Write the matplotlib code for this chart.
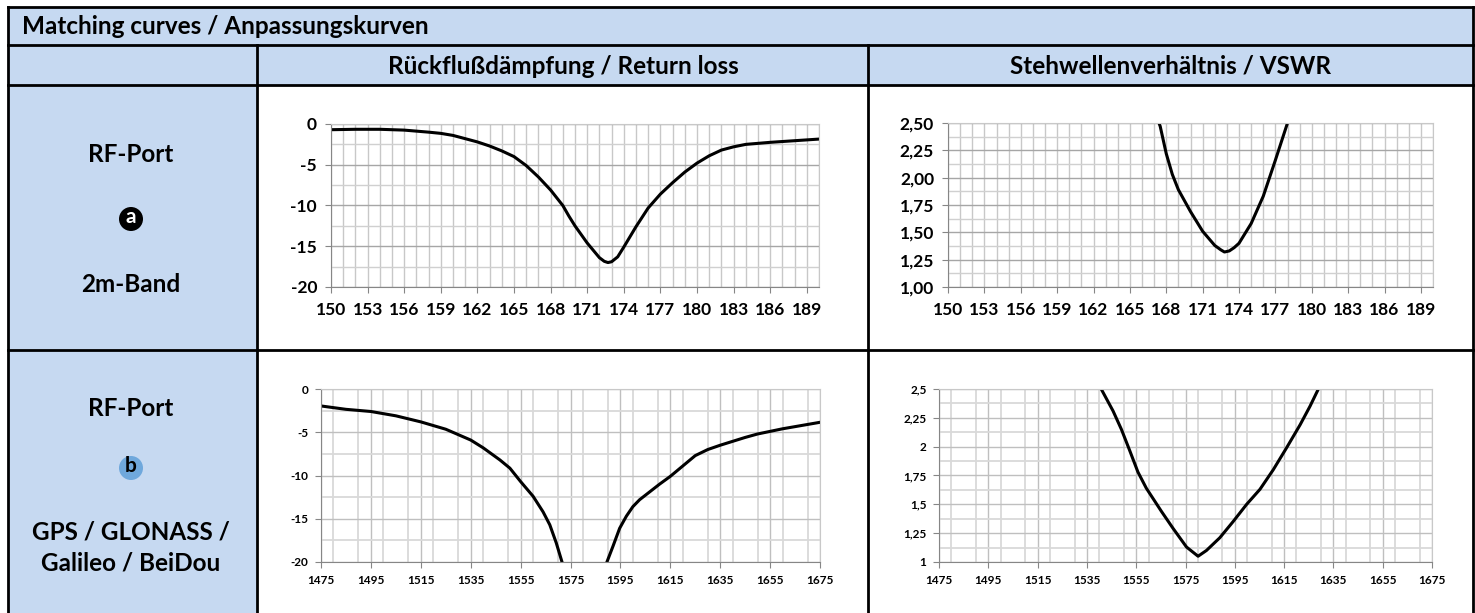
import matplotlib.pyplot as plt
import matplotlib.ticker as mticker
from matplotlib.patches import Rectangle, Circle

plt.rcParams['font.family'] = ['Lato', 'DejaVu Sans']
plt.rcParams['font.weight'] = 'bold'
plt.rcParams['axes.unicode_minus'] = False

W, H = 1475, 613

# --- data ---
# 2m band, return loss (dB)
rl_a_freq = [150, 152, 154, 156, 158, 159, 160, 162, 163, 164, 165, 166, 167, 168, 169,
             169.5, 170, 171, 172, 172.4, 172.7, 173.0, 173.5, 174, 175, 176, 177, 178,
             179, 180, 181, 182, 183, 184, 186, 188, 190]
rl_a_db = [-0.7, -0.65, -0.65, -0.75, -1.0, -1.15, -1.4, -2.2, -2.7, -3.3, -4.0, -5.1, -6.5,
           -8.1, -10.0, -11.3, -12.5, -14.6, -16.4, -16.85, -17.0, -16.9, -16.3, -15.1,
           -12.6, -10.3, -8.6, -7.2, -5.9, -4.8, -3.9, -3.2, -2.8, -2.5, -2.25, -2.05, -1.85]

# 2m band, VSWR
vswr_a_freq = [167.0, 167.5, 168.0, 168.5, 169, 170, 171, 172, 172.5, 172.8, 173.2, 173.6,
               174, 175, 176, 177, 178, 178.3]
vswr_a = [2.62, 2.47, 2.22, 2.03, 1.89, 1.69, 1.51, 1.38, 1.34, 1.32, 1.33, 1.36,
          1.40, 1.58, 1.83, 2.16, 2.50, 2.62]

# GNSS, return loss (dB)
rl_b_freq = [1475, 1485, 1495, 1505, 1515, 1525, 1535, 1540, 1546.7, 1550.7, 1555, 1560,
             1564, 1566.7, 1569.3, 1571.6, 1574, 1578, 1581, 1584, 1587, 1589.6, 1592,
             1594.7, 1597.4, 1600, 1602.7, 1606.7, 1610.7, 1615, 1620, 1625, 1630, 1635,
             1640, 1645, 1650, 1655, 1660, 1665, 1670, 1675]
rl_b_db = [-1.96, -2.35, -2.6, -3.1, -3.8, -4.65, -5.9, -6.8, -8.2, -9.15, -10.7, -12.4,
           -14.2, -15.7, -17.8, -20.0, -23.5, -29.0, -32.0, -28.0, -23.5, -20.0, -18.2,
           -16.1, -14.7, -13.6, -12.8, -11.9, -11.0, -10.1, -8.9, -7.7, -7.0, -6.5,
           -6.05, -5.6, -5.2, -4.9, -4.6, -4.35, -4.1, -3.85]

# GNSS, VSWR
vswr_b_freq = [1539.5, 1540.8, 1545.6, 1549, 1552.3, 1555.7, 1559.1, 1565.2, 1570, 1575.4,
               1580.1, 1583.5, 1588.9, 1594.3, 1599.8, 1605.2, 1610.6, 1616, 1621.5,
               1625.5, 1628.9, 1630]
vswr_b = [2.56, 2.5, 2.31, 2.15, 1.97, 1.78, 1.64, 1.44, 1.29, 1.13, 1.05, 1.10, 1.21,
          1.35, 1.50, 1.63, 1.80, 1.99, 2.19, 2.35, 2.5, 2.55]

# tick labels
rl_ticks = [0, -5, -10, -15, -20]
vswr_ticks = [1.0, 1.25, 1.5, 1.75, 2.0, 2.25, 2.5]
vswr_a_labels = ['1,00', '1,25', '1,50', '1,75', '2,00', '2,25', '2,50']
vswr_b_labels = ['1', '1,25', '1,5', '1,75', '2', '2,25', '2,5']
freq_a_ticks = list(range(150, 190, 3))
freq_b_ticks = list(range(1475, 1676, 20))

blue = '#C6D9F1'
fig = plt.figure(figsize=(W / 100, H / 100), dpi=100)

# background table drawn in pixel coordinates
bg = fig.add_axes([0, 0, 1, 1])
bg.set_xlim(0, W)
bg.set_ylim(H, 0)
bg.set_aspect('equal')
bg.axis('off')

bg.add_patch(Rectangle((8, 7), 1465, 78, facecolor=blue, edgecolor='none'))
bg.add_patch(Rectangle((8, 85), 249, 540, facecolor=blue, edgecolor='none'))
lk = dict(color='black', lw=2, solid_capstyle='projecting')
for y in [7, 45, 85, 350]:
    bg.plot([8, 1473], [y, y], **lk)
bg.plot([8, 8], [7, 613], **lk)
bg.plot([1473, 1473], [7, 613], **lk)
bg.plot([257, 257], [45, 613], **lk)
bg.plot([868, 868], [45, 613], **lk)

fs = 17.5
bg.text(22, 27, 'Matching curves / Anpassungskurven', fontsize=fs, ha='left', va='center')
bg.text(563, 66, 'Rückflußdämpfung / Return loss', fontsize=fs, ha='center', va='center')
bg.text(1171, 66, 'Stehwellenverhältnis / VSWR', fontsize=fs, ha='center', va='center')

bg.text(131, 155, 'RF-Port', fontsize=fs, ha='center', va='center')
bg.add_patch(Circle((131, 219), 12, facecolor='black', edgecolor='none'))
bg.text(131, 217, 'a', fontsize=15, color='white', ha='center', va='center')
bg.text(131, 284, '2m-Band', fontsize=fs, ha='center', va='center')

bg.text(131, 408, 'RF-Port', fontsize=fs, ha='center', va='center')
bg.add_patch(Circle((131, 468), 12, facecolor='#6FA8DC', edgecolor='none'))
bg.text(131, 466, 'b', fontsize=15, color='black', ha='center', va='center')
bg.text(131, 532, 'GPS / GLONASS /', fontsize=fs, ha='center', va='center')
bg.text(131, 563, 'Galileo / BeiDou', fontsize=fs, ha='center', va='center')


def chart(left, right, top, bottom):
    return fig.add_axes([left / W, 1 - bottom / H, (right - left) / W, (bottom - top) / H])


def style(ax, tick_fs, xpad, ypad):
    for s in ['left', 'bottom']:
        ax.spines[s].set_color('#868686')
    for s in ['top', 'right']:
        ax.spines[s].set_color('#C8C8C8')
    ax.tick_params(axis='both', which='major', direction='out', color='#868686',
                   length=4, labelsize=tick_fs)
    ax.tick_params(axis='x', which='major', pad=xpad)
    ax.tick_params(axis='y', which='major', pad=ypad)
    ax.tick_params(which='minor', length=0)
    ax.set_axisbelow(True)


# 2m-band return loss
ax1 = chart(331, 819, 124, 287)
ax1.plot(rl_a_freq, rl_a_db, color='black', lw=2.2)
ax1.set_xlim(150, 190)
ax1.set_ylim(-20, 0)
ax1.set_xticks(freq_a_ticks)
ax1.set_yticks(rl_ticks)
ax1.xaxis.set_minor_locator(mticker.MultipleLocator(1))
ax1.yaxis.set_minor_locator(mticker.MultipleLocator(2.5))
ax1.grid(axis='x', which='both', color='#C8C8C8', lw=1)
ax1.grid(axis='y', which='major', color='#A6A6A6', lw=1)
ax1.grid(axis='y', which='minor', color='#D0D0D0', lw=1)
style(ax1, 12.5, 7, 6)

# 2m-band VSWR
ax2 = chart(948, 1433, 123, 287)
ax2.plot(vswr_a_freq, vswr_a, color='black', lw=2.2)
ax2.set_xlim(150, 190)
ax2.set_ylim(1.0, 2.5)
ax2.set_xticks(freq_a_ticks)
ax2.set_yticks(vswr_ticks)
ax2.set_yticklabels(vswr_a_labels)
ax2.xaxis.set_minor_locator(mticker.MultipleLocator(1))
ax2.yaxis.set_minor_locator(mticker.MultipleLocator(0.125))
ax2.grid(axis='x', which='both', color='#C8C8C8', lw=1)
ax2.grid(axis='y', which='major', color='#A6A6A6', lw=1)
ax2.grid(axis='y', which='minor', color='#D0D0D0', lw=1)
style(ax2, 12.5, 7, 6)

# GNSS return loss
ax3 = chart(321, 820, 389, 562)
ax3.plot(rl_b_freq, rl_b_db, color='black', lw=2.2)
ax3.set_xlim(1475, 1675)
ax3.set_ylim(-20, 0)
ax3.set_xticks(freq_b_ticks)
ax3.set_yticks(rl_ticks)
ax3.xaxis.set_minor_locator(mticker.MultipleLocator(10))
ax3.yaxis.set_minor_locator(mticker.MultipleLocator(2.5))
ax3.grid(axis='x', which='major', color='#BFBFBF', lw=1)
ax3.grid(axis='x', which='minor', color='#D9D9D9', lw=1.3)
ax3.grid(axis='y', which='major', color='#BFBFBF', lw=1)
ax3.grid(axis='y', which='minor', color='#D9D9D9', lw=1.3)
style(ax3, 8.5, 5, 5)

# GNSS VSWR
ax4 = chart(939, 1432, 389, 562)
ax4.plot(vswr_b_freq, vswr_b, color='black', lw=2.2)
ax4.set_xlim(1475, 1675)
ax4.set_ylim(1.0, 2.5)
ax4.set_xticks(freq_b_ticks)
ax4.set_yticks(vswr_ticks)
ax4.set_yticklabels(vswr_b_labels)
ax4.xaxis.set_minor_locator(mticker.MultipleLocator(10))
ax4.yaxis.set_minor_locator(mticker.MultipleLocator(0.125))
ax4.grid(axis='x', which='major', color='#BFBFBF', lw=1)
ax4.grid(axis='x', which='minor', color='#D9D9D9', lw=1.3)
ax4.grid(axis='y', which='major', color='#BFBFBF', lw=1)
ax4.grid(axis='y', which='minor', color='#D9D9D9', lw=1.3)
style(ax4, 8.5, 5, 5)

fig.savefig('out.png', dpi=100)
